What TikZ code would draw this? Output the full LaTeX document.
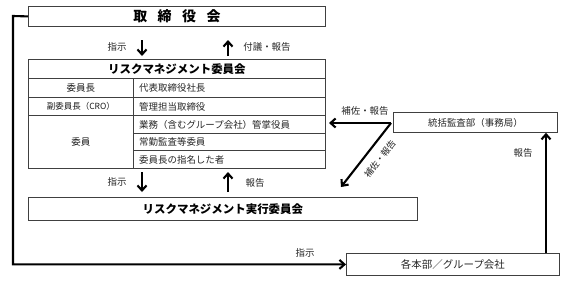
\documentclass[tikz,border=0pt]{standalone}
\usepackage{fontspec}
\setmainfont{Noto Sans CJK JP}
\usetikzlibrary{arrows.meta,positioning,calc}
\tikzset{
  frame/.style={draw=black!75,line width=0.8bp,inner sep=0pt,anchor=north west,text=black!90},
  cellL/.style={frame,align=center,font=\fontsize{9.5}{11}\selectfont},
  arr/.style={line width=2.1bp,-{Straight Barb[length=5bp,width=9bp,line width=2.1bp]}},
  lbl/.style={font=\fontsize{9.5}{11}\selectfont,text=black!85,inner sep=1bp}
}
\begin{document}
\begin{tikzpicture}[x=1bp,y=-1bp]
\useasboundingbox (0,0) rectangle (568,280);
% top board
\node[frame,minimum width=297bp,minimum height=20bp] (board) at (28,6) {};
\node[font=\fontsize{14}{16}\selectfont\bfseries] at (board.center) {取\hspace{0.75em}締\hspace{0.75em}役\hspace{0.75em}会};
% committee table
\node[frame,minimum width=297bp,minimum height=19bp] (rmc) at (28,59) {};
\node[font=\fontsize{11.5}{13}\selectfont\bfseries] at (rmc.center) {リスクマネジメント委員会};
\node[cellL,minimum width=105bp,minimum height=19bp] (l1) at (28,78) {委員長};
\node[cellL,minimum width=105bp,minimum height=18bp,font=\fontsize{8.5}{10}\selectfont] (l2) at (28,97) {副委員長（CRO）};
\node[cellL,minimum width=105bp,minimum height=53bp] (l3) at (28,115) {委員};
\node[frame,minimum width=192bp,minimum height=19bp] (r1) at (133,78) {};
\node[frame,minimum width=192bp,minimum height=18bp] (r2) at (133,97) {};
\node[frame,minimum width=192bp,minimum height=18bp] (r3) at (133,115) {};
\node[frame,minimum width=192bp,minimum height=17bp] (r4) at (133,133) {};
\node[frame,minimum width=192bp,minimum height=18bp] (r5) at (133,150) {};
\foreach \n/\t in {r1/代表取締役社長,r2/管理担当取締役,r3/業務（含むグループ会社）管掌役員,r4/常勤監査等委員,r5/委員長の指名した者}
  \node[lbl,anchor=west] at ($(\n.west)+(5,0)$) {\t};
% execution committee
\node[frame,minimum width=389bp,minimum height=23bp] (exec) at (28,197) {};
\node[font=\fontsize{11.5}{13}\selectfont\bfseries] at (exec.center) {リスクマネジメント実行委員会};
% audit
\node[frame,minimum width=164bp,minimum height=20bp] (audit) at (393,112) {};
\node[lbl] at (audit.center) {統括監査部（事務局）};
% departments
\node[frame,minimum width=213bp,minimum height=22bp] (dept) at (346,253) {};
\node[lbl,font=\fontsize{10.5}{12}\selectfont] at (dept.center) {各本部／グループ会社};
% short arrows
\coordinate (a1s) at (142,40); \coordinate (a1e) at (142,56);
\coordinate (a2s) at (228,56); \coordinate (a2e) at (228,40);
\coordinate (a3s) at (142,172); \coordinate (a3e) at (142,192);
\coordinate (a4s) at (228,192); \coordinate (a4e) at (228,172);
\draw[arr] (a1s) -- (a1e);
\draw[arr] (a2s) -- (a2e);
\draw[arr] (a3s) -- (a3e);
\draw[arr] (a4s) -- (a4e);
\node[lbl] at (117,47) {指示};
\node[lbl] at (267,47) {付議・報告};
\node[lbl] at (117,182) {指示};
\node[lbl] at (255,183) {報告};
% left feedback line
\coordinate (lc) at (13,16);
\draw[arr] (board.west) -- (lc) |- (dept.west);
\node[lbl] at (305,253) {指示};
% dept -> audit
\draw[arr] (dept.north -| 546,0) -- (audit.south -| 546,0);
\node[lbl] at (523,153) {報告};
% audit -> committee / exec
\coordinate (h1) at (329,123);
\coordinate (d1) at (341,187);
\coordinate (ao) at (391,123);
\draw[arr] (ao) -- (h1);
\draw[arr] (ao) -- (d1);
\node[lbl] at (365,111) {補佐・報告};
\node[lbl,rotate=52,font=\fontsize{9}{10}\selectfont] at (380,159) {補佐・報告};
\end{tikzpicture}
\end{document}
